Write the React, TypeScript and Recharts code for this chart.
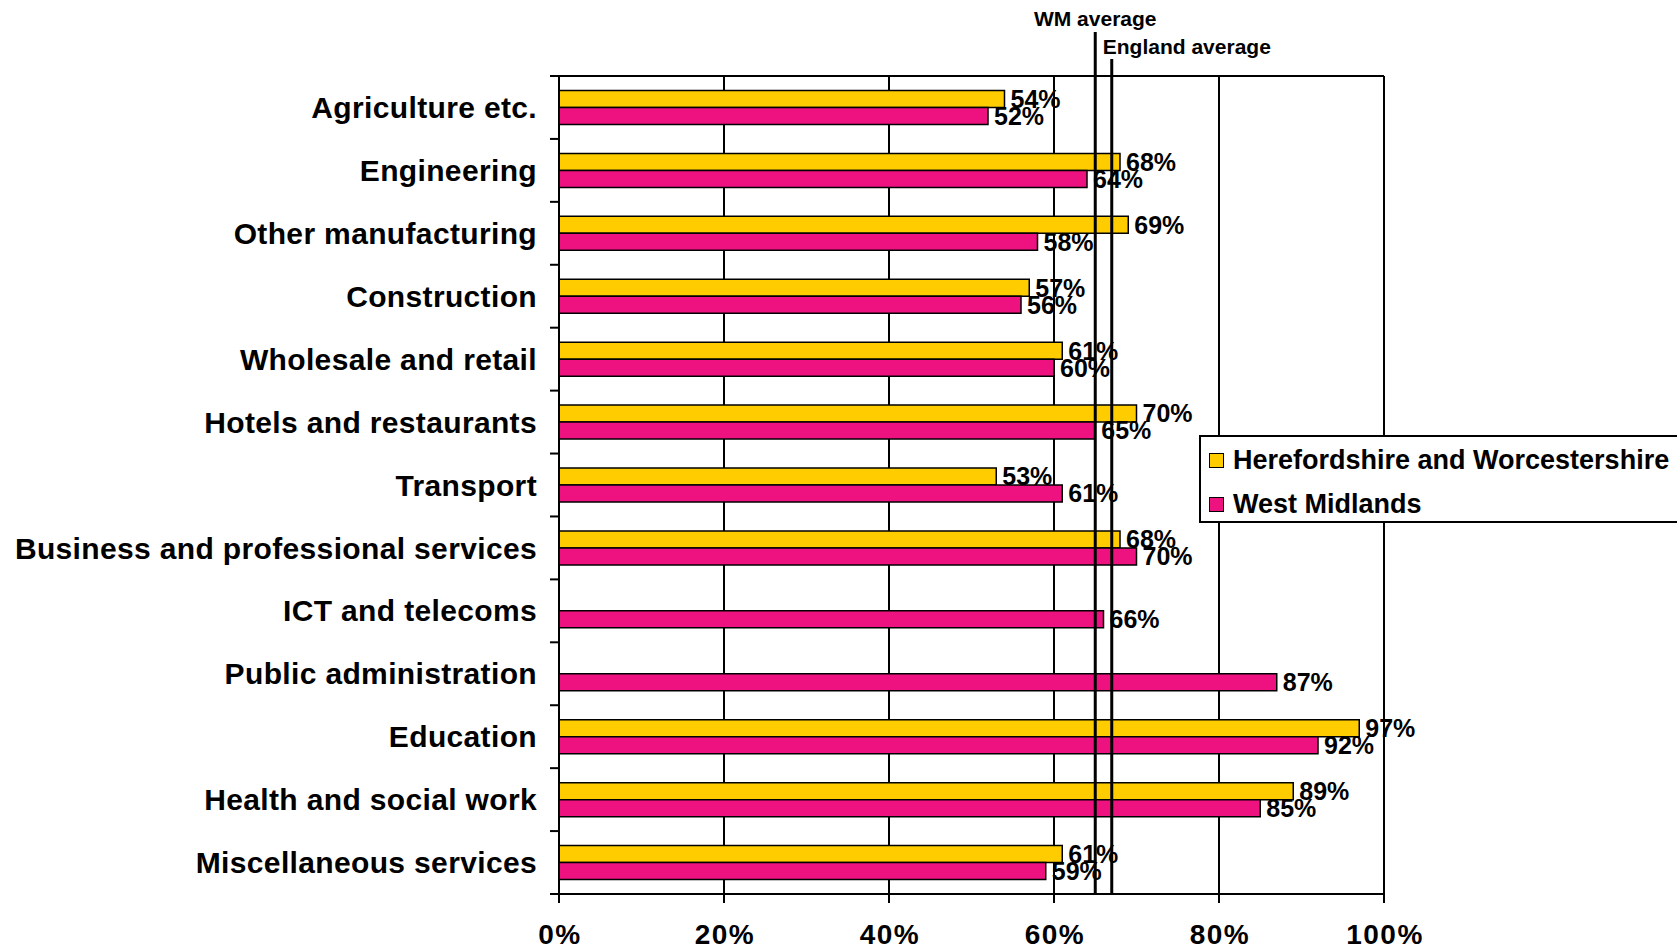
import React from 'react';
import { BarChart, Bar, XAxis, YAxis, CartesianGrid, ReferenceLine, LabelList, Legend } from 'recharts';

const categories = [
  'Agriculture etc.',
  'Engineering',
  'Other manufacturing',
  'Construction',
  'Wholesale and retail',
  'Hotels and restaurants',
  'Transport',
  'Business and professional services',
  'ICT and telecoms',
  'Public administration',
  'Education',
  'Health and social work',
  'Miscellaneous services',
];
const hwValues: (number | null)[] = [54, 68, 69, 57, 61, 70, 53, 68, null, null, 97, 89, 61];
const wmValues: (number | null)[] = [52, 64, 58, 56, 60, 65, 61, 70, 66, 87, 92, 85, 59];
const xTicks = [0, 20, 40, 60, 80, 100];
const seriesNames = ['Herefordshire and Worcestershire', 'West Midlands'];
const seriesKeys = ['hw', 'wm'];
const seriesColors = ['#FFCC00', '#EE1180'];
const wmAverage = 65;
const englandAverage = 67;

const FONT = '"Liberation Sans", Arial, sans-serif';

const data = categories.map((name, i) => ({ name, hw: hwValues[i], wm: wmValues[i] }));

const TICK_MARGIN = 22;

const CatTick = (props: any) => {
  const { x, y, payload, index, visibleTicksCount } = props;
  const off = payload && payload.offset != null ? payload.offset : 0;
  const axisX = x + TICK_MARGIN;
  const isLast = index === (visibleTicksCount != null ? visibleTicksCount - 1 : categories.length - 1);
  return (
    <g>
      <text
        x={x}
        y={y}
        dy="0.355em"
        textAnchor="end"
        fontSize={30}
        fontWeight="bold"
        fill="#000"
        fontFamily={FONT}
        style={{ letterSpacing: 0.35 }}
      >
        {payload.value}
      </text>
      <line x1={axisX - 9} x2={axisX} y1={y - off} y2={y - off} stroke="#000" strokeWidth={2} />
      {isLast && <line x1={axisX - 9} x2={axisX} y1={y + off} y2={y + off} stroke="#000" strokeWidth={2} />}
    </g>
  );
};

const PctTick = (props: any) => {
  const { x, y, payload } = props;
  return (
    <text
      x={x + 1}
      y={y}
      dy="0.71em"
      textAnchor="middle"
      fontSize={28}
      fontWeight="bold"
      fill="#000"
      fontFamily={FONT}
      style={{ letterSpacing: 1.5 }}
    >
      {`${payload.value}%`}
    </text>
  );
};

const makeRefShape = (label: string, lineRise: number, textDx: number, textRise: number, anchor: 'middle' | 'start') => (p: any) => {
  const x = p.x1;
  const top = Math.min(p.y1, p.y2);
  const bottom = Math.max(p.y1, p.y2);
  return (
    <g>
      <line x1={x} x2={x} y1={top - lineRise} y2={bottom} stroke="#000" strokeWidth={3} />
      <text x={x + textDx} y={top - textRise} dy="0.355em" textAnchor={anchor} fontSize={21} fontWeight="bold" fill="#000" fontFamily={FONT}>
        {label}
      </text>
    </g>
  );
};

const renderLegend = () => (
  <div
    style={{
      boxSizing: 'border-box',
      width: '100%',
      height: '100%',
      border: '2px solid #000',
      borderRight: 'none',
      background: '#fff',
      paddingLeft: 8,
      paddingTop: 1,
      fontFamily: FONT,
    }}
  >
    {seriesNames.map((n, i) => (
      <div key={n} style={{ height: 44, display: 'flex', alignItems: 'center' }}>
        <span
          style={{
            display: 'inline-block',
            boxSizing: 'border-box',
            width: 15,
            height: 15,
            border: '1.5px solid #000',
            background: seriesColors[i],
            marginRight: 9,
          }}
        />
        <span style={{ fontSize: 27, fontWeight: 'bold', color: '#000', whiteSpace: 'nowrap' }}>{n}</span>
      </div>
    ))}
  </div>
);

const fmt = (v: any) => (v == null || v === '' ? '' : `${v}%`);

export default function App() {
  return (
    <div
      style={{
        position: 'fixed',
        left: 0,
        top: 0,
        width: 1677,
        height: 951,
        overflow: 'hidden',
        background: '#fff',
        fontFamily: FONT,
      }}
    >
      <BarChart
        width={1677}
        height={951}
        data={data}
        layout="vertical"
        margin={{ top: 76, right: 293, bottom: 0, left: 0 }}
        barCategoryGap="23%"
        barGap={0}
      >
        <CartesianGrid
          vertical
          horizontal
          horizontalCoordinatesGenerator={(p: any) => [p.offset.top]}
          stroke="#000"
          strokeWidth={2}
        />
        <XAxis
          type="number"
          domain={[0, 100]}
          ticks={xTicks}
          axisLine={{ stroke: '#000', strokeWidth: 2 }}
          tickLine={{ stroke: '#000', strokeWidth: 2 }}
          tickSize={9}
          tickMargin={21}
          height={57}
          tick={<PctTick />}
          interval={0}
        />
        <YAxis
          dataKey="name"
          type="category"
          width={559}
          axisLine={{ stroke: '#000', strokeWidth: 2 }}
          tickLine={false}
          tickSize={0}
          tickMargin={TICK_MARGIN}
          interval={0}
          tick={<CatTick />}
        />
        {seriesKeys.map((k, i) => (
          <Bar key={k} dataKey={k} name={seriesNames[i]} fill={seriesColors[i]} stroke="#000" strokeWidth={1.5} isAnimationActive={false}>
            <LabelList
              dataKey={k}
              position="right"
              offset={6}
              formatter={fmt}
              fill="#000"
              fontSize={25}
              fontWeight="bold"
              fontFamily={FONT}
            />
          </Bar>
        ))}
        <ReferenceLine x={wmAverage} ifOverflow="visible" shape={makeRefShape('WM average', 44, 0, 57, 'middle')} />
        <ReferenceLine x={englandAverage} ifOverflow="visible" shape={makeRefShape('England average', 17, -9, 29, 'start')} />
        <Legend
          layout="horizontal"
          verticalAlign="middle"
          align="center"
          wrapperStyle={{ left: 1199, top: 435, width: 500, height: 88 }}
          content={renderLegend}
        />
      </BarChart>
    </div>
  );
}
